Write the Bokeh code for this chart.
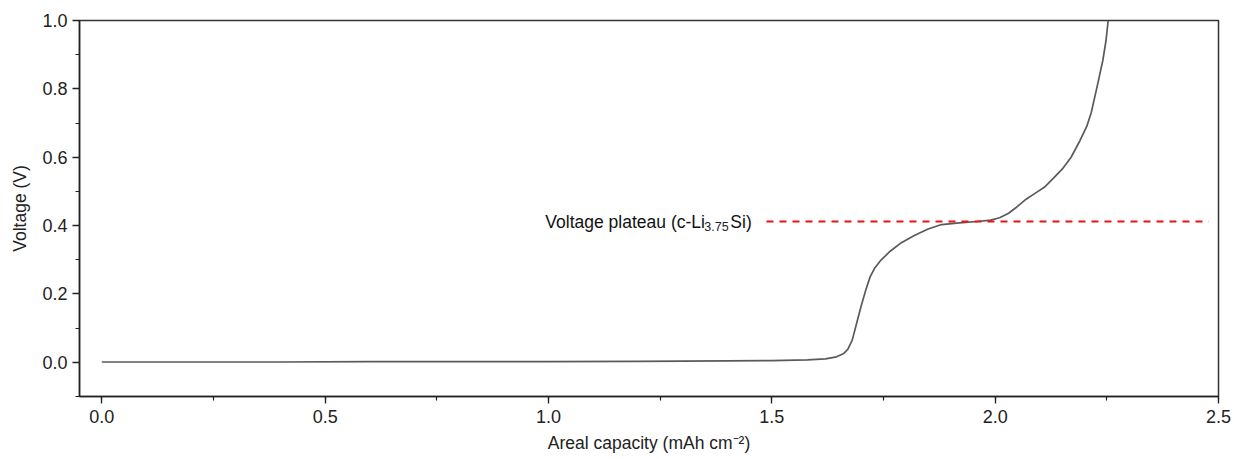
from bokeh.plotting import figure
from bokeh.models import Range1d, SingleIntervalTicker, PrintfTickFormatter
from bokeh.core.properties import value
from bokeh.embed import file_html
from bokeh.resources import INLINE

# Data
capacity = [0.0, 0.2, 0.4, 0.6, 0.8, 1.0, 1.2, 1.4, 1.5, 1.58, 1.62, 1.645, 1.66, 1.67,
            1.68, 1.69, 1.70, 1.71, 1.72, 1.73, 1.745, 1.765, 1.79, 1.82, 1.85, 1.88,
            1.92, 1.96, 1.99, 2.01, 2.03, 2.05, 2.07, 2.09, 2.11, 2.13, 2.15, 2.17,
            2.19, 2.205, 2.215, 2.228, 2.241, 2.248, 2.253]
voltage = [0.001, 0.001, 0.001, 0.002, 0.002, 0.002, 0.003, 0.004, 0.005, 0.007, 0.010,
           0.016, 0.025, 0.038, 0.065, 0.115, 0.165, 0.21, 0.25, 0.275, 0.30, 0.325,
           0.35, 0.372, 0.39, 0.403, 0.408, 0.412, 0.416, 0.423, 0.436, 0.456, 0.478,
           0.495, 0.512, 0.538, 0.565, 0.60, 0.649, 0.69, 0.73, 0.805, 0.883, 0.94, 1.0]

plateau_v = 0.412
plateau_x = [1.488, 2.478]
label_main = "Voltage plateau (c-Li"
label_sub = "3.75"
label_end = "Si)"
label_x = 0.993

FONT = "Liberation Sans"

p = figure(width=1234, height=459, output_backend="svg", toolbar_location=None,
           x_range=Range1d(-0.05, 2.5), y_range=Range1d(-0.1, 1.0),
           min_border_left=79, min_border_right=16, min_border_top=20, min_border_bottom=63)

p.xgrid.visible = False
p.ygrid.visible = False
p.outline_line_color = "#333333"
p.outline_line_width = 1.5
p.background_fill_color = "white"
p.border_fill_color = "white"

p.line(capacity, voltage, line_color="#5a5a5a", line_width=1.7)
p.line(plateau_x, [plateau_v, plateau_v], line_color="#ee1111", line_width=2.2, line_dash="7 6")

# annotation text pieces
p.text(x=[label_x], y=[plateau_v], text=[label_main], text_font=value(FONT),
       text_font_size="17.5px", text_align="left", text_baseline="alphabetic", text_color="#111111",
       y_offset=1)
p.text(x=[label_x], y=[plateau_v], text=[label_sub], text_font=value(FONT),
       text_font_size="12.5px", text_align="left", text_baseline="alphabetic", text_color="#222222",
       x_offset=159, y_offset=5)
p.text(x=[label_x], y=[plateau_v], text=[label_end], text_font=value(FONT),
       text_font_size="17.5px", text_align="left", text_baseline="alphabetic", text_color="#111111",
       x_offset=185, y_offset=1)

p.xaxis.ticker = SingleIntervalTicker(interval=0.5, num_minor_ticks=2)
p.yaxis.ticker = SingleIntervalTicker(interval=0.2, num_minor_ticks=2)
p.xaxis.formatter = PrintfTickFormatter(format="%.1f")
p.yaxis.formatter = PrintfTickFormatter(format="%.1f")

for ax in (p.xaxis[0], p.yaxis[0]):
    ax.axis_line_color = "#222222"
    ax.axis_line_width = 1.5
    ax.major_tick_line_color = "#222222"
    ax.minor_tick_line_color = "#222222"
    ax.major_tick_line_width = 1.3
    ax.minor_tick_line_width = 1.2
    ax.major_tick_out = 7
    ax.major_tick_in = 0
    ax.minor_tick_out = 4
    ax.minor_tick_in = 0
    ax.major_label_text_font = FONT
    ax.major_label_text_font_size = "18px"
    ax.major_label_text_color = "#222222"
    ax.axis_label_text_font = FONT
    ax.axis_label_text_font_size = "17.5px"
    ax.axis_label_text_font_style = "normal"
    ax.axis_label_text_color = "#222222"

p.xaxis.axis_label = "Areal capacity (mAh cm\u207b\u00b2)"
p.yaxis.axis_label = "Voltage (V)"
p.xaxis.major_label_standoff = 6
p.yaxis.major_label_standoff = 5
p.xaxis.axis_label_standoff = 7
p.yaxis.axis_label_standoff = 9

open("out.html", "w").write(file_html(p, INLINE))
